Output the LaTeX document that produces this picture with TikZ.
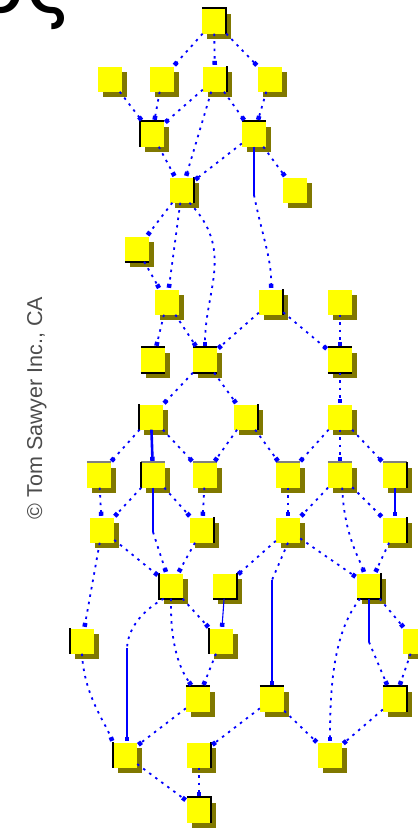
\documentclass[tikz,border=0pt]{standalone}
\usepackage{fontspec}
\setmainfont{Liberation Sans}
\newfontfamily\greekfont{DejaVu Sans}
\usetikzlibrary{arrows.meta,shadows}
\definecolor{nodefill}{RGB}{255,255,0}
\definecolor{nodeshade}{RGB}{128,120,0}
\definecolor{edgeblue}{RGB}{0,0,255}

\begin{document}
\begin{tikzpicture}[x=1pt,y=-1pt,
  box/.style={rectangle, fill=nodefill, minimum width=24pt, minimum height=25pt,
    inner sep=0pt, drop shadow={shadow xshift=5pt, shadow yshift=-5pt,
    fill=nodeshade, opacity=1}},
  tip/.style={-{Square[length=4pt,width=4.5pt]}, shorten >=1.5pt},
  link/.style={draw=edgeblue, line width=1.8pt, dash pattern=on 2.5pt off 5pt, tip},
  plain/.style={draw=edgeblue, line width=1.8pt, dash pattern=on 2.5pt off 5pt},
  solidlink/.style={draw=edgeblue, line width=2.6pt},
  thinlink/.style={draw=edgeblue, line width=1.1pt},
  rim/.style={draw=black, line width=2.2pt},
  greyrim/.style={draw=black!50, line width=2pt}
]
\useasboundingbox (0,0) rectangle (418,828);
\clip (0,0) rectangle (418,828);

% heading fragment (runs off the top edge) and copyright line
\node[font=\greekfont\fontsize{82}{82}\selectfont, anchor=base east, inner sep=0pt] (title) at (74,12.5) {ος};
\node[font=\fontsize{21.5}{22}\selectfont, text=black!70, rotate=90, anchor=base, inner sep=0pt] (copy) at (42,408) {© Tom Sawyer Inc., CA};

% nodes, level by level
\node[box] (A) at (214,21) {};
\node[box] (B1) at (110,79) {};
\node[box] (B2) at (162,79) {};
\node[box] (B3) at (215,79) {};
\node[box] (B4) at (270,79) {};
\node[box] (C1) at (152,134) {};
\node[box] (C2) at (254,134) {};
\node[box] (D1) at (182,190) {};
\node[box] (D2) at (295,190) {};
\node[box] (E1) at (137,249) {};
\node[box] (F1) at (167,302) {};
\node[box] (F2) at (271,302) {};
\node[box] (F3) at (340,302) {};
\node[box] (G1) at (153,360) {};
\node[box] (G2) at (205,360) {};
\node[box] (G3) at (340,360) {};
\node[box] (H1) at (151,417) {};
\node[box] (H2) at (246,417) {};
\node[box] (H3) at (340,417) {};
\node[box] (I1) at (99,475) {};
\node[box] (I2) at (153,475) {};
\node[box] (I3) at (205,475) {};
\node[box] (I4) at (288,475) {};
\node[box] (I5) at (340,475) {};
\node[box] (I6) at (395,475) {};
\node[box] (J1) at (102,530) {};
\node[box] (J2) at (202,530) {};
\node[box] (J3) at (288,530) {};
\node[box] (J4) at (395,530) {};
\node[box] (K1) at (171,586) {};
\node[box] (K2) at (225,586) {};
\node[box] (K3) at (369,586) {};
\node[box] (L1) at (82,641) {};
\node[box] (L2) at (221,641) {};
\node[box] (L3) at (415,641) {};
\node[box] (M1) at (198,699) {};
\node[box] (M2) at (272,699) {};
\node[box] (M3) at (395,699) {};
\node[box] (N1) at (125,755) {};
\node[box] (N2) at (199,755) {};
\node[box] (N3) at (330,755) {};
\node[box] (O1) at (199,810) {};

% dark rims on some box sides
\draw[rim] (A.north west) -- (A.north east) -- (A.south east);
\draw[rim] (B3.north east) -- (B3.south east);
\draw[rim] (C1.south west) -- (C1.north west) -- (C1.north east);
\draw[rim] (C2.north west) -- (C2.north east);
\draw[rim] (D1.north east) -- (D1.south east);
\draw[rim] (E1.south west) -- (E1.south east);
\draw[rim] (F2.north east) -- (F2.south east);
\foreach \n in {G1,G2,G3} {
  \draw[rim] (\n.north west) -- (\n.north east);
  \draw[rim] (\n.south west) -- (\n.south east);
}
\draw[rim] (H1.north west) -- (H1.south west);
\draw[rim] (H2.north east) -- (H2.south east);
\foreach \n in {I1,I2,I3,I4,I5,I6} {
  \draw[greyrim] (\n.north west) -- (\n.north east);
}
\draw[rim] (I2.north west) -- (I2.south west);
\draw[rim] (I6.north east) -- (I6.south east);
\draw[rim] (J2.north east) -- (J2.south east);
\draw[rim] (J4.north east) -- (J4.south east);
\draw[rim] (K1.north west) -- (K1.south west) -- (K1.south east);
\draw[rim] (K2.north east) -- (K2.south east) -- (K2.south west);
\draw[rim] (K3.north east) -- (K3.south east) -- (K3.south west);
\draw[rim] (L1.north west) -- (L1.south west);
\draw[rim] (L2.north west) -- (L2.south west);
\draw[rim] (M1.north west) -- (M1.north east);
\draw[rim] (M2.north west) -- (M2.north east);
\draw[rim] (M3.north west) -- (M3.north east) -- (M3.south east);
\draw[rim] (N1.north west) -- (N1.south west);
\draw[rim] (N2.north east) -- (N2.south east);
\draw[rim] (O1.north west) -- (O1.north east) -- (O1.south east);

% bend points of the mixed solid / dotted connectors
\coordinate (c2m) at (254,195);
\coordinate (i2m) at (153,532);
\coordinate (j3m) at (272,580);
\coordinate (k1m) at (127,648);
\coordinate (k3m) at (369,642);

% connectors
\draw[link] (A) -- (B2);
\draw[link] (A) -- (B3);
\draw[link] (A) -- (B4);
\draw[link] (B1) -- (C1);
\draw[link] (B2) -- (C1);
\draw[link] (B3) -- (C1);
\draw[link] (B3) -- (D1);
\draw[link] (B3) -- (C2);
\draw[link] (B4) -- (C2);
\draw[link] (C1) -- (D1);
\draw[link] (C2) -- (D1);
\draw[link] (C2) -- (D2);
\draw[solidlink] (C2.south) -- (c2m);
\draw[link] (c2m) .. controls (262,235) and (272,260) .. (F2.north);
\draw[link] (D1) -- (E1);
\draw[link] (D1) -- (F1);
\draw[link] (D1.-60) .. controls (235,250) and (205,290) .. (G2.north);
\draw[link] (E1) -- (F1);
\draw[link] (F1) -- (G1);
\draw[link] (F1) -- (G2);
\draw[link] (F2) -- (G2);
\draw[link] (F2) -- (G3);
\draw[link] (F3) -- (G3);
\draw[link] (G2) -- (H1);
\draw[link] (G2) -- (H2);
\draw[link] (G3) -- (H3);
\draw[link] (H1) -- (I1);
\draw[solidlink, tip] (H1) -- (I2);
\draw[link] (H1) -- (I3);
\draw[link] (H2) -- (I3);
\draw[link] (H2) -- (I4);
\draw[link] (H3) -- (I4);
\draw[link] (H3) -- (I5);
\draw[link] (H3) -- (I6);
\draw[link] (I1) -- (J1);
\draw[link] (I2) -- (J1);
\draw[solidlink] (I2.south) -- (i2m);
\draw[link] (i2m) -- (K1.110);
\draw[link] (I2) -- (J2);
\draw[link] (I3) -- (J2);
\draw[link] (I4) -- (J3);
\draw[link] (I5) -- (J3);
\draw[link] (I5) -- (J4);
\draw[link] (I5.-80) .. controls (344,535) and (360,560) .. (K3.110);
\draw[solidlink, tip] (I6) -- (J4);
\draw[link] (J1) -- (K1);
\draw[link] (J1) -- (L1);
\draw[link] (J2) -- (K1);
\draw[link] (J3) -- (K2);
\draw[link] (J3) -- (K3);
\draw[plain] (J3.south) -- (j3m);
\draw[solidlink, tip] (j3m) -- (M2.north);
\draw[link] (J4) -- (K3);
\draw[link] (K1) -- (L2);
\draw[thinlink, tip] (K2) -- (L2);
\draw[plain] (K1.-120) .. controls (140,612) and (128,630) .. (k1m);
\draw[thinlink, tip] (k1m) -- (k1m |- N1.north);
\draw[link] (K1.south) .. controls (170,650) and (182,672) .. (M1.115);
\draw[solidlink] (K3.south) -- (k3m);
\draw[link] (k3m) -- (M3.120);
\draw[link] (K3.-125) .. controls (335,630) and (330,680) .. (N3.north);
\draw[link] (K3) -- (L3);
\draw[link] (L2) -- (M1);
\draw[link] (L3) -- (M3);
\draw[link] (L1.south) .. controls (84,695) and (105,722) .. (N1.north west);
\draw[link] (M1) -- (N1);
\draw[link] (M2) -- (N2);
\draw[link] (M2) -- (N3);
\draw[link] (M3) -- (N3);
\draw[link] (N1) -- (O1);
\draw[link] (N2) -- (O1);
\end{tikzpicture}
\end{document}
